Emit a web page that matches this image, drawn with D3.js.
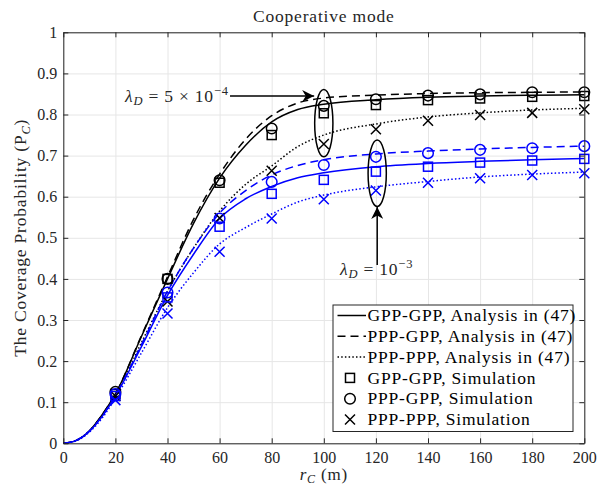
<!DOCTYPE html>
<html>
<head>
<meta charset="utf-8">
<title>Cooperative mode</title>
<script src="https://d3js.org/d3.v7.min.js"></script>
<style>
	body { margin: 0; background: #fff; }
	svg text { font-family: "Liberation Serif", "DejaVu Serif", serif; }
	.grid line { stroke: #e6e6e6; stroke-width: 1; }
	.grid .domain { stroke: none; }
	.axis text { font-size: 16px; fill: #262626; font-family: "Liberation Serif", serif; }
	.axis line, .axis path { stroke: #262626; }
	.lbl { font-size: 17.5px; letter-spacing: 0.8px; }
</style>
</head>
<body>
<div id="chart"></div>
<script>
// x positions of the analysis curves (m)
var rLine = [0, 5, 10, 15, 20, 30, 40, 50, 60, 70, 80, 90, 100, 120, 140, 160, 180, 200];
// analysis, lambda_D = 5e-4
var gppA5 = [0, 0.007, 0.03, 0.07, 0.12, 0.26, 0.40, 0.535, 0.645, 0.725, 0.782, 0.812, 0.825, 0.836, 0.842, 0.845, 0.847, 0.848];
var pgpA5 = [0, 0.007, 0.03, 0.07, 0.12, 0.262, 0.405, 0.545, 0.655, 0.74, 0.797, 0.828, 0.84, 0.847, 0.851, 0.853, 0.854, 0.855];
var pppA5 = [0, 0.007, 0.03, 0.068, 0.115, 0.245, 0.37, 0.475, 0.565, 0.63, 0.675, 0.722, 0.75, 0.777, 0.794, 0.804, 0.811, 0.815];
// analysis, lambda_D = 1e-3
var gppA10 = [0, 0.007, 0.029, 0.066, 0.115, 0.235, 0.36, 0.46, 0.547, 0.595, 0.625, 0.646, 0.658, 0.673, 0.681, 0.686, 0.69, 0.693];
var pgpA10 = [0, 0.007, 0.03, 0.067, 0.117, 0.24, 0.37, 0.475, 0.56, 0.615, 0.653, 0.676, 0.69, 0.704, 0.711, 0.716, 0.72, 0.723];
var pppA10 = [0, 0.006, 0.027, 0.062, 0.11, 0.22, 0.33, 0.415, 0.485, 0.525, 0.558, 0.587, 0.604, 0.624, 0.637, 0.648, 0.655, 0.66];

// simulation points
var rSim = [20, 40, 60, 80, 100, 120, 140, 160, 180, 200];
var gppS5 = [0.12, 0.40, 0.634, 0.75, 0.803, 0.823, 0.835, 0.839, 0.843, 0.845];
var pgpS5 = [0.125, 0.40, 0.64, 0.766, 0.821, 0.837, 0.846, 0.849, 0.854, 0.854];
var pppS5 = [0.115, 0.345, 0.548, 0.663, 0.728, 0.764, 0.785, 0.799, 0.804, 0.813];
var gppS10 = [0.115, 0.355, 0.527, 0.607, 0.641, 0.661, 0.673, 0.683, 0.688, 0.692];
var pgpS10 = [0.12, 0.367, 0.547, 0.636, 0.677, 0.697, 0.706, 0.714, 0.718, 0.723];
var pppS10 = [0.105, 0.316, 0.466, 0.547, 0.594, 0.615, 0.634, 0.645, 0.653, 0.657];

var xTicks = [0, 20, 40, 60, 80, 100, 120, 140, 160, 180, 200];
var yTicks = [0, 0.1, 0.2, 0.3, 0.4, 0.5, 0.6, 0.7, 0.8, 0.9, 1];
var yTickLabels = ["0", "0.1", "0.2", "0.3", "0.4", "0.5", "0.6", "0.7", "0.8", "0.9", "1"];

var legendLabels = ["GPP-GPP, Analysis in (47)", "PPP-GPP, Analysis in (47)", "PPP-PPP, Analysis in (47)",
	"GPP-GPP, Simulation", "PPP-GPP, Simulation", "PPP-PPP, Simulation"];

var W = 599, H = 486;
var m = {top: 32.3, right: 14.7, bottom: 42.7, left: 63.3};
var w = W - m.left - m.right, h = H - m.top - m.bottom;

var x = d3.scaleLinear().domain([0, 200]).range([0, w]);
var y = d3.scaleLinear().domain([0, 1]).range([h, 0]);

var svg = d3.select("#chart").append("svg")
	.attr("width", W).attr("height", H);
var g = svg.append("g").attr("transform", "translate(" + m.left + "," + m.top + ")");

// grid
g.append("g").attr("class", "grid")
	.attr("transform", "translate(0," + h + ")")
	.call(d3.axisBottom(x).tickValues(xTicks).tickSize(-h).tickFormat(""));
g.append("g").attr("class", "grid")
	.call(d3.axisLeft(y).tickValues(yTicks).tickSize(-w).tickFormat(""));

var dashes = {solid: null, dash: "8,5", dot: "1.5,2.2"};

var line = d3.line()
	.x(function(d) { return x(d[0]); })
	.y(function(d) { return y(d[1]); })
	.curve(d3.curveMonotoneX);

var curves = [
	{v: gppA5, c: "#000", s: "solid"}, {v: pgpA5, c: "#000", s: "dash"}, {v: pppA5, c: "#000", s: "dot"},
	{v: gppA10, c: "#0000ff", s: "solid"}, {v: pgpA10, c: "#0000ff", s: "dash"}, {v: pppA10, c: "#0000ff", s: "dot"}
];
curves.forEach(function(cv) {
	g.append("path")
		.datum(rLine.map(function(r, i) { return [r, cv.v[i]]; }))
		.attr("d", line)
		.attr("fill", "none")
		.attr("stroke", cv.c)
		.attr("stroke-width", 1.5)
		.attr("stroke-dasharray", dashes[cv.s]);
});

function marker(sel, type, color) {
	if (type === "square") {
		sel.append("rect").attr("x", -4.5).attr("y", -4.5).attr("width", 9).attr("height", 9)
			.attr("fill", "none").attr("stroke", color).attr("stroke-width", 1.5);
	} else if (type === "circle") {
		sel.append("circle").attr("r", 5.3)
			.attr("fill", "none").attr("stroke", color).attr("stroke-width", 1.5);
	} else {
		sel.append("path").attr("d", "M-5,-5L5,5M-5,5L5,-5")
			.attr("fill", "none").attr("stroke", color).attr("stroke-width", 1.5);
	}
}

var sims = [
	{v: gppS5, c: "#000", t: "square"}, {v: pgpS5, c: "#000", t: "circle"}, {v: pppS5, c: "#000", t: "cross"},
	{v: gppS10, c: "#0000ff", t: "square"}, {v: pgpS10, c: "#0000ff", t: "circle"}, {v: pppS10, c: "#0000ff", t: "cross"}
];
sims.forEach(function(s) {
	g.append("g").selectAll("g")
		.data(rSim.map(function(r, i) { return [r, s.v[i]]; }))
		.join("g")
		.attr("transform", function(d) { return "translate(" + x(d[0]) + "," + y(d[1]) + ")"; })
		.each(function() { marker(d3.select(this), s.t, s.c); });
});

// axes, ticks inward on all four sides
g.append("g").attr("class", "axis")
	.attr("transform", "translate(0," + h + ")")
	.call(d3.axisBottom(x).tickValues(xTicks).tickSizeInner(-5).tickSizeOuter(0).tickPadding(8));
g.append("g").attr("class", "axis")
	.call(d3.axisLeft(y).tickValues(yTicks).tickSizeInner(-5).tickSizeOuter(0).tickPadding(6)
		.tickFormat(function(d, i) { return yTickLabels[i]; }));
g.append("g").attr("class", "axis")
	.call(d3.axisTop(x).tickValues(xTicks).tickSizeInner(-5).tickSizeOuter(0).tickFormat(""));
g.append("g").attr("class", "axis")
	.attr("transform", "translate(" + w + ",0)")
	.call(d3.axisRight(y).tickValues(yTicks).tickSizeInner(-5).tickSizeOuter(0).tickFormat(""));

// annotations
function ellipse(cx, cy, rx, ry) {
	g.append("ellipse")
		.attr("cx", x(cx)).attr("cy", y(cy))
		.attr("rx", x(rx) - x(0)).attr("ry", y(0) - y(ry))
		.attr("fill", "none").attr("stroke", "#000").attr("stroke-width", 1.5);
}
ellipse(100, 0.779, 3.5, 0.082);
ellipse(120.5, 0.657, 3.5, 0.081);

svg.append("defs").append("marker")
	.attr("id", "ah").attr("viewBox", "0 0 10 10")
	.attr("refX", 10).attr("refY", 5)
	.attr("markerWidth", 12).attr("markerHeight", 12)
	.attr("markerUnits", "userSpaceOnUse")
	.attr("orient", "auto")
	.append("path").attr("d", "M0,0L10,5L0,10L3,5Z").attr("fill", "#000");

g.append("line")
	.attr("x1", x(64)).attr("y1", y(0.845)).attr("x2", x(96.3)).attr("y2", y(0.845))
	.attr("stroke", "#000").attr("stroke-width", 1.5).attr("marker-end", "url(#ah)");
g.append("line")
	.attr("x1", x(120.5)).attr("y1", y(0.434)).attr("x2", x(120.5)).attr("y2", y(0.575))
	.attr("stroke", "#000").attr("stroke-width", 1.5).attr("marker-end", "url(#ah)");

function lambdaLabel(tx, ty, rest, sup) {
	var t = g.append("text").attr("x", tx).attr("y", ty).attr("class", "lbl")
		.attr("fill", "#262626");
	t.append("tspan").attr("font-style", "italic").text("λ");
	t.append("tspan").attr("font-style", "italic").attr("font-size", "12.5px").attr("dy", 3.5).text("D");
	t.append("tspan").attr("dy", -3.5).text(rest);
	t.append("tspan").attr("font-size", "12.5px").attr("dy", -7).text(sup);
}
lambdaLabel(125 - m.left, 102 - m.top, " = 5 × 10", "−4");
lambdaLabel(340 - m.left, 275 - m.top, " = 10", "−3");

// legend
var lg = g.append("g").attr("transform", "translate(" + (333 - m.left) + "," + (305 - m.top) + ")");
lg.append("rect").attr("width", 240).attr("height", 126.5)
	.attr("fill", "#fff").attr("stroke", "#262626").attr("stroke-width", 1);
legendLabels.forEach(function(lab, i) {
	var yy = 10.5 + i * 20.8;
	if (i < 3) {
		lg.append("line").attr("x1", 4.5).attr("x2", 33).attr("y1", yy).attr("y2", yy)
			.attr("stroke", "#000").attr("stroke-width", 1.5)
			.attr("stroke-dasharray", dashes[curves[i].s]);
	} else {
		var mk = lg.append("g").attr("transform", "translate(17," + yy + ")");
		marker(mk, sims[i - 3].t, "#000");
	}
	lg.append("text").attr("x", 34.5).attr("y", yy).attr("dy", "0.33em").attr("class", "lbl")
		.attr("fill", "#000").text(lab);
});

// title and axis labels
svg.append("text").attr("x", m.left + w / 2).attr("y", 22).attr("class", "lbl")
	.attr("text-anchor", "middle").attr("fill", "#262626")
	.text("Cooperative mode");

var xl = svg.append("text").attr("x", m.left + w / 2).attr("y", 480).attr("class", "lbl")
	.style("font-size", "17px")
	.attr("text-anchor", "middle").attr("fill", "#262626");
xl.append("tspan").attr("font-style", "italic").text("r");
xl.append("tspan").attr("font-style", "italic").attr("font-size", "12px").attr("dy", 2.5).text("C");
xl.append("tspan").attr("dy", -2.5).text(" (m)");

var yl = svg.append("text").attr("class", "lbl")
	.attr("transform", "translate(26," + (m.top + h / 2) + ") rotate(-90)")
	.attr("text-anchor", "middle").attr("fill", "#262626");
yl.append("tspan").text("The Coverage Probability (P");
yl.append("tspan").attr("font-style", "italic").attr("font-size", "12.5px").attr("dy", 3.5).text("C");
yl.append("tspan").attr("dy", -3.5).text(")");
</script>
</body>
</html>
